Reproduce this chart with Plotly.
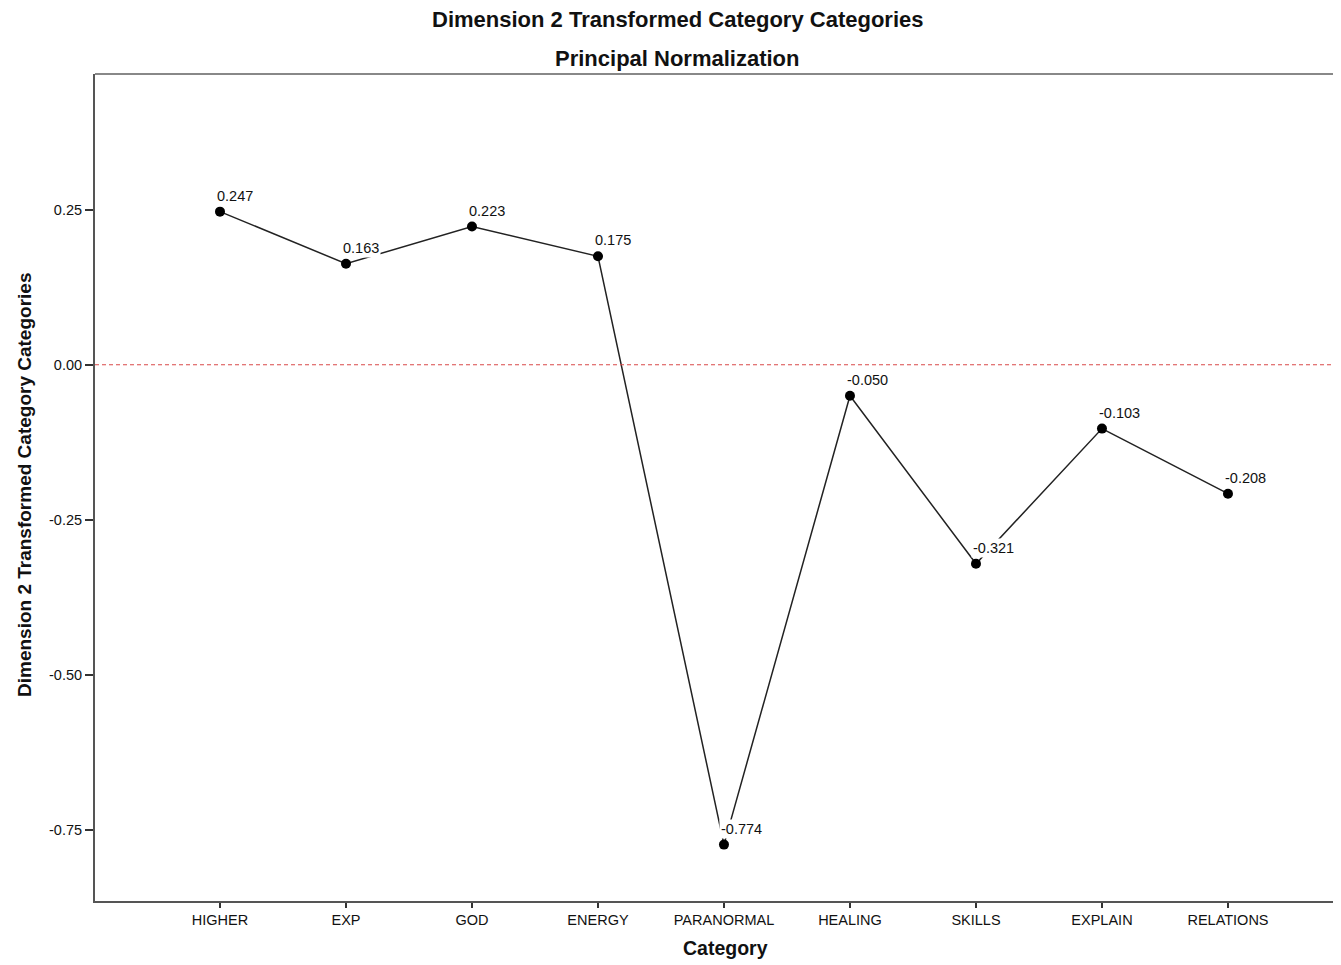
import plotly.graph_objects as go

categories = ["HIGHER", "EXP", "GOD", "ENERGY", "PARANORMAL", "HEALING", "SKILLS", "EXPLAIN", "RELATIONS"]
values = [0.247, 0.163, 0.223, 0.175, -0.774, -0.050, -0.321, -0.103, -0.208]
value_labels = ["0.247", "0.163", "0.223", "0.175", "-0.774", "-0.050", "-0.321", "-0.103", "-0.208"]
y_ticks = [0.25, 0.0, -0.25, -0.5, -0.75]
y_tick_labels = ["0.25", "0.00", "-0.25", "-0.50", "-0.75"]

xpos = list(range(len(categories)))
FONT = "Liberation Sans, Arial, sans-serif"
TXT = "#111111"

fig = go.Figure()
fig.add_trace(go.Scatter(
    x=xpos, y=values, mode="lines+markers",
    line=dict(color="#222222", width=1.5),
    marker=dict(color="black", size=10),
    hoverinfo="skip", showlegend=False,
))

for xi, v, lab in zip(xpos, values, value_labels):
    fig.add_annotation(
        x=xi, y=v, text=lab, showarrow=False,
        xanchor="left", yanchor="bottom", xshift=-5, yshift=6,
        bgcolor="white", borderpad=1,
        font=dict(family=FONT, size=14.5, color=TXT),
    )

fig.add_shape(type="line", xref="paper", x0=0, x1=1, yref="y", y0=0, y1=0,
              line=dict(color="#d94848", width=1, dash="4px,3px"))

cx = (677 - 95) / (1341 - 95)
fig.add_annotation(xref="paper", yref="paper", x=cx, y=1, yshift=55,
                   text="<b>Dimension 2 Transformed Category Categories</b>", showarrow=False,
                   font=dict(family=FONT, size=22, color=TXT), yanchor="middle")
fig.add_annotation(xref="paper", yref="paper", x=cx, y=1, yshift=16,
                   text="<b>Principal Normalization</b>", showarrow=False,
                   font=dict(family=FONT, size=22, color=TXT), yanchor="middle")
fig.add_annotation(xref="paper", yref="paper", x=(725 - 95) / (1341 - 95), y=0, yshift=-47,
                   text="<b>Category</b>", showarrow=False,
                   font=dict(family=FONT, size=19.5, color=TXT), yanchor="middle")
fig.add_annotation(xref="paper", yref="paper", x=0, xshift=-71, y=(901 - 485) / (901 - 74),
                   text="<b>Dimension 2 Transformed Category Categories</b>", showarrow=False,
                   textangle=-90, font=dict(family=FONT, size=19, color=TXT),
                   xanchor="center", yanchor="middle")

fig.update_layout(
    width=1333, height=957,
    margin=dict(l=87, r=0, t=66, b=64),
    plot_bgcolor="white", paper_bgcolor="white",
    font=dict(family=FONT, size=15, color=TXT),
    xaxis=dict(
        range=[-0.992, 8.897], tickmode="array", tickvals=xpos, ticktext=categories,
        showgrid=False, zeroline=False, showline=True, linecolor="#555555", linewidth=2,
        ticks="outside", ticklen=5, tickwidth=1.5, tickcolor="#333333",
        tickfont=dict(family=FONT, size=14.5, color=TXT),
    ),
    yaxis=dict(
        range=[-0.865, 0.469], tickmode="array", tickvals=y_ticks, ticktext=y_tick_labels,
        showgrid=False, zeroline=False, showline=True, linecolor="#555555", linewidth=2,
        ticks="outside", ticklen=8, tickwidth=1.5, tickcolor="#333333",
        tickfont=dict(family=FONT, size=14.5, color=TXT),
    ),
)
fig.add_shape(type="line", xref="paper", yref="paper", x0=0, x1=1, y0=1, y1=1,
              line=dict(color="#888888", width=2))

fig.write_html("out.html")
